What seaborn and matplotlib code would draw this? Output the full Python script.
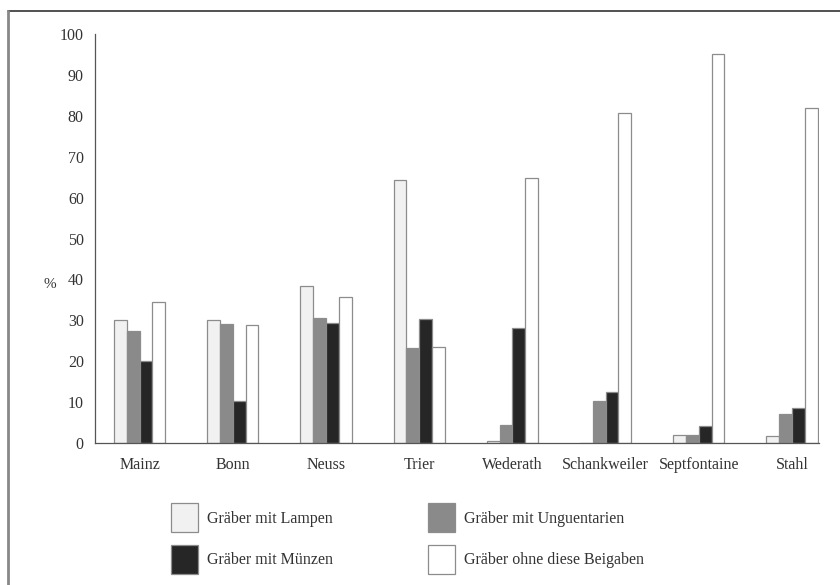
import pandas as pd
import numpy as np
import seaborn as sns
import matplotlib.pyplot as plt
from matplotlib.lines import Line2D

# values (percent of graves)
orte = ["Mainz", "Bonn", "Neuss", "Trier", "Wederath", "Schankweiler", "Septfontaine", "Stahl"]
lampen = [30.0, 30.0, 38.5, 64.2, 0.6, 0.1, 2.0, 1.6]
unguentarien = [27.4, 29.0, 30.6, 23.3, 4.5, 10.2, 2.0, 7.0]
muenzen = [20.0, 10.2, 29.3, 30.3, 28.2, 12.4, 4.2, 8.5]
ohne = [34.4, 28.8, 35.8, 23.4, 64.8, 80.8, 95.0, 81.8]

serien = ["Gräber mit Lampen", "Gräber mit Unguentarien", "Gräber mit Münzen", "Gräber ohne diese Beigaben"]
farben = ["#f1f1f1", "#8a8a8a", "#262626", "#ffffff"]

df = pd.DataFrame({
    "Ort": orte * 4,
    "Serie": np.repeat(serien, len(orte)),
    "Prozent": lampen + unguentarien + muenzen + ohne,
})

sns.set_style("white")
plt.rcParams["font.family"] = ["Liberation Serif", "DejaVu Serif"]

fig = plt.figure(figsize=(8.4, 5.85), dpi=100)
ax = fig.add_axes([0.113, 0.2427, 0.862, 0.6992])

sns.barplot(data=df, x="Ort", y="Prozent", hue="Serie", order=orte, hue_order=serien,
            palette=farben, width=0.55, edgecolor="#8c8c8c", linewidth=0.9,
            saturation=1, legend=False, ax=ax)

ax.set_ylim(0, 100)
ax.set_xlim(-0.48, 7.29)
ax.set_yticks(range(0, 101, 10))
ax.set_xlabel("")
ax.set_ylabel("")
ax.text(-0.062, 0.38, "%", transform=ax.transAxes, fontsize=11, color="#333333", ha="center")

for s in ["top", "right"]:
    ax.spines[s].set_visible(False)
ax.spines["left"].set_color("#555555")
ax.spines["bottom"].set_color("#555555")
ax.spines["left"].set_linewidth(0.9)
ax.spines["bottom"].set_linewidth(0.9)
ax.tick_params(axis="y", direction="out", length=4, width=0.8, color="#555555",
               labelsize=11.5, labelcolor="#333333", pad=4)
ax.tick_params(axis="x", length=0, labelsize=11.5, labelcolor="#333333", pad=10)

# legend below the plot, two columns
handles = [plt.Rectangle((0, 0), 1, 1, facecolor=c, edgecolor="#8c8c8c", linewidth=0.9) for c in farben]
order = [0, 2, 1, 3]
fig.legend([handles[i] for i in order], [serien[i] for i in order], ncol=2,
           loc="upper left", bbox_to_anchor=(0.186, 0.164), frameon=False,
           fontsize=11.5, handlelength=1.7, handleheight=2.4, handletextpad=0.6,
           columnspacing=5.9, labelspacing=0.8, labelcolor="#333333")

# partial frame (top and left) like the scanned page
fig.add_artist(Line2D([0.009, 1.0], [0.981, 0.981], transform=fig.transFigure, color="#333333", linewidth=1.2))
fig.add_artist(Line2D([0.009, 0.009], [0.0, 0.981], transform=fig.transFigure, color="#888888", linewidth=2))

fig.savefig("out.png", dpi=100)
